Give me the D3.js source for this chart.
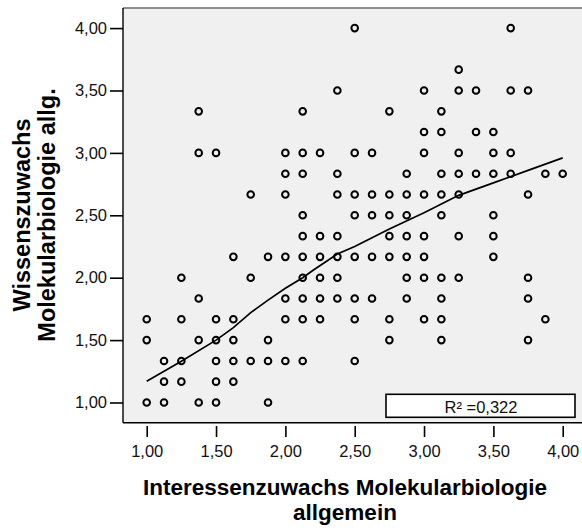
<!DOCTYPE html>
<head>
  <meta charset="UTF-8">
  <title>Streudiagramm</title>
  <style>
  body, html, svg{
    padding: 0;
    margin: 0;
  }
  body{
    background: #fff;
  }
  svg text{
    font-family: "Liberation Sans", Arial, sans-serif;
  }
  </style>
</head>
<body>
  <script src="https://cdn.jsdelivr.net/npm/d3@7"></script>
  <script type="text/javascript">
  var interesse = [
    2.5, 3.625,
    3.25,
    2.375, 3.0, 3.25, 3.375, 3.625, 3.75,
    1.375, 2.125, 2.75, 3.125,
    3.0, 3.125, 3.375, 3.5,
    1.375, 1.5, 2.0, 2.125, 2.25, 2.5, 2.625, 3.0, 3.25, 3.5, 3.625,
    2.0, 2.125, 2.375, 2.875, 3.125, 3.25, 3.375, 3.5, 3.625, 3.875, 4.0,
    1.75, 2.0, 2.375, 2.5, 2.625, 2.75, 2.875, 3.0, 3.125, 3.25, 3.75,
    2.125, 2.5, 2.625, 2.75, 2.875, 3.125, 3.5,
    2.125, 2.25, 2.375, 2.75, 2.875, 3.0, 3.25, 3.5,
    1.625, 1.875, 2.0, 2.125, 2.25, 2.375, 2.5, 2.625, 2.75, 2.875, 3.0, 3.5,
    1.25, 1.75, 2.125, 2.25, 2.375, 2.875, 3.0, 3.125, 3.25, 3.75,
    1.375, 2.0, 2.125, 2.25, 2.375, 2.5, 2.625, 2.875, 3.125, 3.75,
    1.0, 1.25, 1.5, 1.625, 2.0, 2.125, 2.25, 2.5, 2.75, 3.0, 3.125, 3.875,
    1.0, 1.375, 1.5, 1.625, 1.875, 2.75, 3.125, 3.75,
    1.125, 1.25, 1.5, 1.625, 1.75, 1.875, 2.0, 2.125, 2.5,
    1.125, 1.25, 1.5, 1.625,
    1.0, 1.125, 1.375, 1.5, 1.875
  ];
  var wissen = [
    4.0, 4.0,
    3.667,
    3.5, 3.5, 3.5, 3.5, 3.5, 3.5,
    3.333, 3.333, 3.333, 3.333,
    3.167, 3.167, 3.167, 3.167,
    3.0, 3.0, 3.0, 3.0, 3.0, 3.0, 3.0, 3.0, 3.0, 3.0, 3.0,
    2.833, 2.833, 2.833, 2.833, 2.833, 2.833, 2.833, 2.833, 2.833, 2.833, 2.833,
    2.667, 2.667, 2.667, 2.667, 2.667, 2.667, 2.667, 2.667, 2.667, 2.667, 2.667,
    2.5, 2.5, 2.5, 2.5, 2.5, 2.5, 2.5,
    2.333, 2.333, 2.333, 2.333, 2.333, 2.333, 2.333, 2.333,
    2.167, 2.167, 2.167, 2.167, 2.167, 2.167, 2.167, 2.167, 2.167, 2.167, 2.167, 2.167,
    2.0, 2.0, 2.0, 2.0, 2.0, 2.0, 2.0, 2.0, 2.0, 2.0,
    1.833, 1.833, 1.833, 1.833, 1.833, 1.833, 1.833, 1.833, 1.833, 1.833,
    1.667, 1.667, 1.667, 1.667, 1.667, 1.667, 1.667, 1.667, 1.667, 1.667, 1.667, 1.667,
    1.5, 1.5, 1.5, 1.5, 1.5, 1.5, 1.5, 1.5,
    1.333, 1.333, 1.333, 1.333, 1.333, 1.333, 1.333, 1.333, 1.333,
    1.167, 1.167, 1.167, 1.167,
    1.0, 1.0, 1.0, 1.0, 1.0
  ];

  var fitX = [1.0, 1.25, 1.5, 1.625, 1.75, 1.875, 2.0, 2.125, 2.2, 2.375, 2.5, 2.75, 3.0, 3.25, 3.5, 3.75, 4.0];
  var fitY = [1.17, 1.33, 1.50, 1.60, 1.72, 1.82, 1.915, 2.0, 2.06, 2.19, 2.25, 2.39, 2.52, 2.66, 2.76, 2.86, 2.96];

  var tickValues = [1.0, 1.5, 2.0, 2.5, 3.0, 3.5, 4.0];
  var rSquared = "R² =0,322";
  var xTitle = ["Interessenzuwachs Molekularbiologie", "allgemein"];
  var yTitle = ["Wissenszuwachs", "Molekularbiologie allg."];

  var width = 582, height = 531;
  var frame = {left: 123, top: 8, right: 590, bottom: 422.7};

  var svg = d3.select('body').append('svg')
    .attr('width', width)
    .attr('height', height);

  var x = d3.scaleLinear().domain([1, 4]).range([146.7, 562.7]);
  var y = d3.scaleLinear().domain([1, 4]).range([402.5, 28.1]);
  var fmt = function(d) { return d.toFixed(2).replace('.', ','); };

  // Hintergrund des Diagramms
  svg.append('rect')
    .attr('x', frame.left)
    .attr('y', frame.top)
    .attr('width', frame.right - frame.left)
    .attr('height', frame.bottom - frame.top)
    .attr('fill', '#f0f0f0');

  svg.append('line')
    .attr('x1', frame.left).attr('x2', frame.right)
    .attr('y1', frame.top).attr('y2', frame.top)
    .attr('stroke', '#6a6a6a').attr('stroke-width', 1.6);
  svg.append('line')
    .attr('x1', frame.left).attr('x2', frame.left)
    .attr('y1', frame.top).attr('y2', frame.bottom)
    .attr('stroke', '#000').attr('stroke-width', 1.4);
  svg.append('line')
    .attr('x1', frame.left).attr('x2', frame.right)
    .attr('y1', frame.bottom).attr('y2', frame.bottom)
    .attr('stroke', '#000').attr('stroke-width', 1.4);

  // Achsen
  var yAxis = svg.append('g')
    .attr('transform', 'translate(' + frame.left + ',0)')
    .call(d3.axisLeft(y).tickValues(tickValues).tickFormat(fmt).tickSize(13).tickPadding(3));
  var xAxis = svg.append('g')
    .attr('transform', 'translate(0,426)')
    .call(d3.axisBottom(x).tickValues(tickValues).tickFormat(fmt).tickSize(11).tickPadding(8));

  [xAxis, yAxis].forEach(function(g) {
    g.select('.domain').remove();
    g.selectAll('.tick line').attr('stroke', '#000').attr('stroke-width', 1.6);
    g.selectAll('.tick text')
      .attr('fill', '#111')
      .style('font-size', '16.5px')
      .style('font-family', '"Liberation Sans", Arial, sans-serif');
  });

  // Punkte
  svg.append('g')
    .selectAll('circle')
    .data(d3.range(interesse.length))
    .enter()
    .append('circle')
    .attr('cx', function(i) { return x(interesse[i]); })
    .attr('cy', function(i) { return y(wissen[i]); })
    .attr('r', 3.3)
    .attr('fill', 'none')
    .attr('stroke', '#000')
    .attr('stroke-width', 2);

  // Loess-Linie
  var line = d3.line()
    .x(function(i) { return x(fitX[i]); })
    .y(function(i) { return y(fitY[i]); });
  svg.append('path')
    .datum(d3.range(fitX.length))
    .attr('d', line)
    .attr('fill', 'none')
    .attr('stroke', '#000')
    .attr('stroke-width', 1.7);

  // R²-Kasten
  svg.append('rect')
    .attr('x', 386).attr('y', 394.3)
    .attr('width', 189).attr('height', 23)
    .attr('fill', '#fff')
    .attr('stroke', '#000')
    .attr('stroke-width', 1.6);
  svg.append('text')
    .attr('x', 481).attr('y', 412.5)
    .attr('text-anchor', 'middle')
    .style('font-size', '16.5px')
    .attr('fill', '#111')
    .text(rSquared);

  // Achsentitel
  svg.append('g').selectAll('text')
    .data(xTitle)
    .enter()
    .append('text')
    .attr('x', 345)
    .attr('y', function(d, i) { return 495 + i * 25; })
    .attr('text-anchor', 'middle')
    .style('font-size', '22.5px')
    .style('font-weight', 'bold')
    .text(function(d) { return d; });

  svg.append('g')
    .attr('transform', 'translate(0,215) rotate(-90)')
    .selectAll('text')
    .data(yTitle)
    .enter()
    .append('text')
    .attr('x', 0)
    .attr('y', function(d, i) { return 30 + i * 25; })
    .attr('text-anchor', 'middle')
    .style('font-size', '23.5px')
    .style('font-weight', 'bold')
    .text(function(d) { return d; });
  </script>
</body>
</html>
